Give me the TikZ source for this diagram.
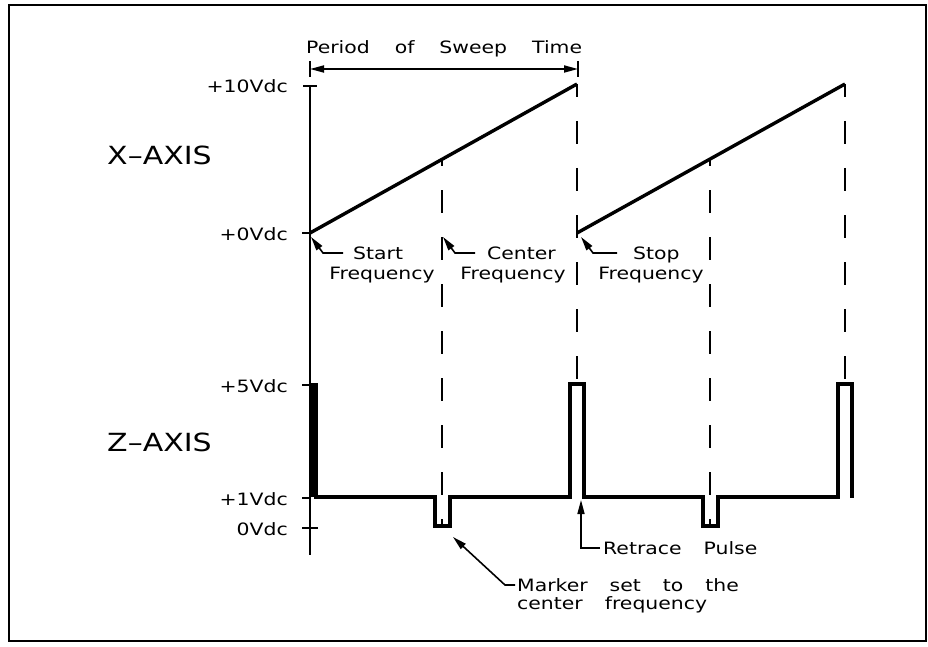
\documentclass[tikz,border=0pt]{standalone}
\usepackage{fontspec}
\setmainfont{DejaVu Sans}[FakeStretch=1.2]
\usetikzlibrary{arrows.meta}
\newcommand\lblfont{\fontsize{17}{17}\selectfont\spaceskip 22pt\relax}
\newcommand\perfont{\fontsize{17}{17}\selectfont\spaceskip 25pt\relax}
\newcommand\axfont{\fontsize{25}{25}\selectfont}
\begin{document}
\begin{tikzpicture}[x=1pt,y=-1pt,
  lbl/.style={inner sep=0pt, font=\lblfont},
  perlbl/.style={inner sep=0pt, font=\perfont},
  axl/.style={inner sep=0pt, font=\axfont},
  frame/.style={line width=1.8pt},
  axisline/.style={line width=2.4pt},
  tickline/.style={line width=1.8pt},
  wave/.style={line width=3.4pt, line join=miter},
  guide/.style={line width=2.3pt, dash pattern=on 23pt off 24pt},
  callout/.style={line width=1.6pt, -{Triangle[length=14pt,width=7pt]}},
  span/.style={line width=1.8pt, {Triangle[length=14pt,width=7pt]}-{Triangle[length=14pt,width=7pt]}}]
\useasboundingbox (0,0) rectangle (928,647);
% frame
\draw[frame] (9,5) rectangle (926,641);
% vertical axis
\coordinate (axTop) at (310,86);
\coordinate (axBot) at (310,555);
\draw[axisline] (axTop) -- (axBot);
% ticks
\coordinate (t10a) at (303,86); \coordinate (t10b) at (317,86);
\coordinate (t0a) at (302,233); \coordinate (t0b) at (310,233);
\coordinate (t5a) at (302,385); \coordinate (t5b) at (310,385);
\coordinate (t1a) at (302,498); \coordinate (t1b) at (310,498);
\coordinate (tza) at (302,528); \coordinate (tzb) at (318,528);
\draw[tickline] (t10a) -- (t10b);
\draw[tickline] (t0a) -- (t0b);
\draw[tickline] (t5a) -- (t5b);
\draw[tickline] (t1a) -- (t1b);
\draw[tickline] (tza) -- (tzb);
% tick labels
\node[lbl, anchor=base east] (l10) at (288,93) {+10Vdc};
\node[lbl, anchor=base east] (l0) at (288,240) {+0Vdc};
\node[lbl, anchor=base east] (l5) at (288,392) {+5Vdc};
\node[lbl, anchor=base east] (l1) at (288,505) {+1Vdc};
\node[lbl, anchor=base east] (lz) at (288,535) {0Vdc};
% axis names
\node[axl, anchor=base west] (xax) at (107,165) {X--AXIS};
\node[axl, anchor=base west] (zax) at (107,451) {Z--AXIS};
% period of sweep
\node[perlbl, anchor=base west] (per) at (306,54) {Period of Sweep Time};
\coordinate (pL) at (310,69); \coordinate (pR) at (578,69);
\coordinate (pLt) at (310,61); \coordinate (pLb) at (310,77);
\coordinate (pRt) at (578,61); \coordinate (pRb) at (578,77);
\draw[span] (pL) -- (pR);
\draw[tickline] (pLt) -- (pLb);
\draw[tickline] (pRt) -- (pRb);
% ramps
\coordinate (r1s) at (310,233); \coordinate (r1e) at (577,84);
\coordinate (r2s) at (577,233); \coordinate (r2e) at (845,84);
\draw[wave] (r1s) -- (r1e);
\draw[wave] (r2s) -- (r2e);
% dashed guides
\coordinate (g1t) at (577,84); \coordinate (g1b) at (577,384);
\coordinate (g2t) at (845,84); \coordinate (g2b) at (845,384);
\coordinate (gc1t) at (442,159); \coordinate (gc1b) at (442,526);
\coordinate (gc2t) at (710,159); \coordinate (gc2b) at (710,526);
\draw[guide, dash phase=10pt] (g1t) -- (g1b);
\draw[guide, dash phase=10pt] (g2t) -- (g2b);
\draw[guide, dash phase=16pt] (gc1t) -- (gc1b);
\draw[guide, dash phase=16pt] (gc2t) -- (gc2b);
% Z waveform
\draw[wave] (312,497) -- (312,385) -- (316,385) -- (316,497) -- (435,497) -- (435,526) -- (450,526) -- (450,497)
  -- (570,497) -- (570,384) -- (584,384) -- (584,497) -- (703,497) -- (703,526) -- (718,526) -- (718,497)
  -- (838,497) -- (838,384) -- (852,384) -- (852,498);
% Start frequency
\node[lbl, anchor=base west] (st1) at (353,259) {Start};
\node[lbl, anchor=base] (st2) at (382,279) {Frequency};
\coordinate (sa) at (343,253); \coordinate (sb) at (323,253); \coordinate (sc) at (311,237);
\draw[callout] (sa) -- (sb) -- (sc);
% Center frequency
\node[lbl, anchor=base west] (ce1) at (487,259) {Center};
\node[lbl, anchor=base] (ce2) at (513,279) {Frequency};
\coordinate (ca) at (475,253); \coordinate (cb) at (455,253); \coordinate (cc) at (443,237);
\draw[callout] (ca) -- (cb) -- (cc);
% Stop frequency
\node[lbl, anchor=base west] (sp1) at (633,259) {Stop};
\node[lbl, anchor=base] (sp2) at (651,279) {Frequency};
\coordinate (pa) at (617,253); \coordinate (pb) at (593,253); \coordinate (pc) at (581,237);
\draw[callout] (pa) -- (pb) -- (pc);
% Retrace pulse
\node[lbl, anchor=base west] (rp) at (603,554) {Retrace Pulse};
\coordinate (ra) at (600,548); \coordinate (rb) at (581,548); \coordinate (rc) at (581,500);
\draw[callout] (ra) -- (rb) -- (rc);
% Marker
\node[lbl, anchor=base west] (mk1) at (517,591) {Marker set to the};
\node[lbl, anchor=base west] (mk2) at (517,609) {center frequency};
\coordinate (ma) at (515,585); \coordinate (mb) at (505,585); \coordinate (mc) at (453,537);
\draw[callout] (ma) -- (mb) -- (mc);
\end{tikzpicture}
\end{document}
